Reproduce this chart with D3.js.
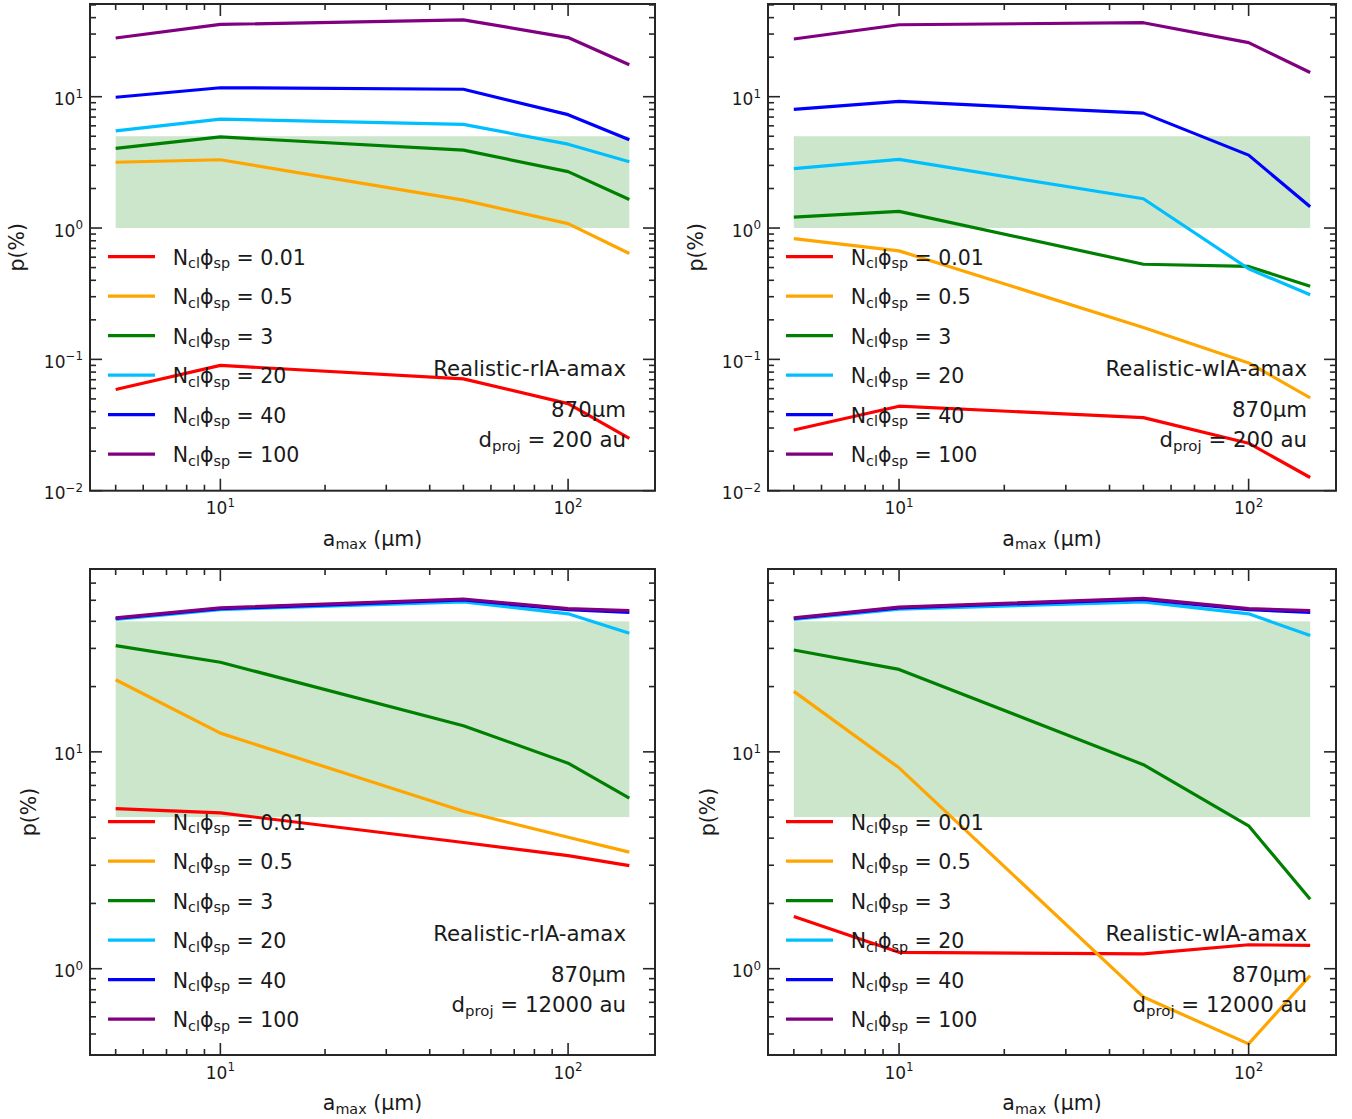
<!DOCTYPE html>
<html><head><meta charset="utf-8">
<script src="https://cdn.jsdelivr.net/npm/d3@7"></script>
<style>
body{margin:0;background:#fff}
svg{display:block}
text{font-family:"DejaVu Sans",sans-serif;fill:#1a1a1a}
</style>
</head><body>
<svg id="c" width="1352" height="1119"></svg>
<script>
// ---------------- data ----------------
const amax = [5, 10, 50, 100, 150];
const seriesLabels = ["0.01", "0.5", "3", "20", "40", "100"];
const seriesColors = ["#ff0000", "#ffa500", "#008000", "#00bfff", "#0000ff", "#800080"];

// p(%) per series (rows in seriesLabels order), columns follow amax
const rIA_200au = [
  [0.059, 0.090, 0.071, 0.046, 0.025],
  [3.17, 3.31, 1.63, 1.08, 0.64],
  [4.04, 4.94, 3.92, 2.69, 1.65],
  [5.5, 6.75, 6.15, 4.35, 3.2],
  [9.9, 11.7, 11.4, 7.3, 4.7],
  [28.0, 35.5, 38.5, 28.2, 17.5]
];
const wIA_200au = [
  [0.029, 0.044, 0.036, 0.023, 0.0126],
  [0.83, 0.67, 0.175, 0.094, 0.051],
  [1.21, 1.34, 0.53, 0.51, 0.36],
  [2.83, 3.33, 1.67, 0.49, 0.31],
  [8.0, 9.2, 7.5, 3.59, 1.45],
  [27.5, 35.3, 36.6, 25.8, 15.3]
];
const rIA_12000au = [
  [5.47, 5.23, 3.82, 3.32, 2.99],
  [21.5, 12.2, 5.32, 4.04, 3.45],
  [30.9, 25.9, 13.2, 8.87, 6.12],
  [40.8, 45.3, 49.2, 43.3, 35.2],
  [41.2, 45.7, 50.2, 45.3, 44.0],
  [41.5, 46.1, 50.7, 45.8, 44.8]
];
const wIA_12000au = [
  [1.74, 1.19, 1.17, 1.29, 1.28],
  [19.0, 8.44, 0.74, 0.45, 0.93],
  [29.5, 24.0, 8.73, 4.56, 2.09],
  [40.8, 45.5, 49.2, 43.3, 34.4],
  [41.2, 46.1, 50.5, 45.3, 44.0],
  [41.5, 46.5, 51.0, 45.8, 44.8]
];
const shade200 = [1, 5];
const shade12000 = [5, 40];
const yLim200 = [0.01, 50.8];
const yLim12000 = [0.4, 69.7];
const yTickExp200 = [-2, -1, 0, 1];
const yTickExp12000 = [0, 1];
const xTickExp = [1, 2];
const modelNames = ["Realistic-rIA-amax", "Realistic-wIA-amax"];
const wavelength = "870µm";
const dprojLabels = ["200", "12000"];

// ---------------- layout ----------------
const panels = [
  {left: 90,  right: 655,  top: 4,   bottom: 490.7, data: rIA_200au,   ylim: yLim200,   shade: shade200,   yexp: yTickExp200,   model: modelNames[0], dproj: dprojLabels[0], ylabX: 24},
  {left: 768, right: 1336, top: 4,   bottom: 490.7, data: wIA_200au,   ylim: yLim200,   shade: shade200,   yexp: yTickExp200,   model: modelNames[1], dproj: dprojLabels[0], ylabX: 703},
  {left: 90,  right: 655,  top: 569, bottom: 1055,  data: rIA_12000au, ylim: yLim12000, shade: shade12000, yexp: yTickExp12000, model: modelNames[0], dproj: dprojLabels[1], ylabX: 36},
  {left: 768, right: 1336, top: 569, bottom: 1055,  data: wIA_12000au, ylim: yLim12000, shade: shade12000, yexp: yTickExp12000, model: modelNames[1], dproj: dprojLabels[1], ylabX: 715}
];

const svg = d3.select("#c");
const FS_TICK = 17, FS_TXT = 20.5, FS_ANN = 21.3;
const SPINE = "#262626";

function richText(g, x, y, parts, fs, anchor) {
  const t = g.append("text").attr("x", x).attr("y", y)
    .attr("font-size", fs).attr("text-anchor", anchor || "start");
  let cur = 0;
  parts.forEach(p => {
    const target = p.sub ? fs * 0.18 : (p.sup ? -fs * 0.45 : 0);
    const ts = t.append("tspan").attr("dy", target - cur).text(p.t);
    if (p.sub || p.sup) ts.attr("font-size", fs * 0.7);
    cur = target;
  });
  return t;
}

const lxLo = Math.log10(d3.min(amax)), lxHi = Math.log10(d3.max(amax));
const xPad = 0.05 * (lxHi - lxLo);

panels.forEach(P => {
  const g = svg.append("g");
  const x = d3.scaleLog().domain([Math.pow(10, lxLo - xPad), Math.pow(10, lxHi + xPad)]).range([P.left, P.right]);
  const y = d3.scaleLog().domain(P.ylim).range([P.bottom, P.top]);

  // shaded band
  g.append("rect")
    .attr("x", x(amax[0])).attr("width", x(amax[amax.length - 1]) - x(amax[0]))
    .attr("y", y(P.shade[1])).attr("height", y(P.shade[0]) - y(P.shade[1]))
    .attr("fill", "#008000").attr("fill-opacity", 0.2);

  // lines
  const line = d3.line().x((d, i) => x(amax[i])).y(d => y(d));
  P.data.forEach((row, k) => {
    g.append("path").datum(row).attr("d", line)
      .attr("fill", "none").attr("stroke", seriesColors[k])
      .attr("stroke-width", 3.2).attr("stroke-linejoin", "round").attr("stroke-linecap", "butt");
  });

  // ticks (inward, all four sides)
  const [xd0, xd1] = x.domain();
  const xt = [];
  for (let e = 0; e <= 3; e++) for (let m = 1; m <= 9; m++) {
    const v = m * Math.pow(10, e);
    if (v >= xd0 && v <= xd1) xt.push({v, major: m === 1});
  }
  const [yd0, yd1] = y.domain();
  const yt = [];
  for (let e = -3; e <= 2; e++) for (let m = 1; m <= 9; m++) {
    const v = m * Math.pow(10, e);
    if (v >= yd0 * 0.9999 && v <= yd1) yt.push({v, major: m === 1});
  }
  const tk = g.append("g").attr("stroke", SPINE).attr("stroke-width", 1.6);
  xt.forEach(t => {
    const L = t.major ? 12 : 6, px = x(t.v);
    tk.append("line").attr("x1", px).attr("x2", px).attr("y1", P.bottom).attr("y2", P.bottom - L);
    tk.append("line").attr("x1", px).attr("x2", px).attr("y1", P.top).attr("y2", P.top + L);
  });
  yt.forEach(t => {
    const L = t.major ? 12 : 6, py = y(t.v);
    tk.append("line").attr("y1", py).attr("y2", py).attr("x1", P.left).attr("x2", P.left + L);
    tk.append("line").attr("y1", py).attr("y2", py).attr("x1", P.right).attr("x2", P.right - L);
  });

  // spines
  g.append("rect").attr("x", P.left).attr("y", P.top)
    .attr("width", P.right - P.left).attr("height", P.bottom - P.top)
    .attr("fill", "none").attr("stroke", SPINE).attr("stroke-width", 2);

  // tick labels
  xTickExp.forEach(e => {
    richText(g, x(Math.pow(10, e)), P.bottom + 23.5, [{t: "10"}, {t: String(e), sup: 1}], FS_TICK, "middle");
  });
  P.yexp.forEach(e => {
    const s = e < 0 ? "\u2212" + (-e) : String(e);
    richText(g, P.left - 7, y(Math.pow(10, e)) + 8.5, [{t: "10"}, {t: s, sup: 1}], FS_TICK, "end");
  });

  // axis labels
  richText(g, (P.left + P.right) / 2, P.bottom + 55,
    [{t: "a"}, {t: "max", sub: 1}, {t: " (µm)"}], FS_TXT, "middle");
  const cy = (P.top + P.bottom) / 2;
  g.append("text").attr("transform", `translate(${P.ylabX},${cy}) rotate(-90)`)
    .attr("text-anchor", "middle").attr("font-size", FS_TXT).text("p(%)");

  // legend
  seriesLabels.forEach((lab, k) => {
    const ly = P.top + 252.7 + k * 39.5;
    g.append("line").attr("x1", P.left + 18).attr("x2", P.left + 65)
      .attr("y1", ly).attr("y2", ly).attr("stroke", seriesColors[k]).attr("stroke-width", 3.2);
    richText(g, P.left + 82.7, ly + 8,
      [{t: "N"}, {t: "cl", sub: 1}, {t: "\u03D5"}, {t: "sp", sub: 1}, {t: " = " + lab}], FS_TXT, "start");
  });

  // annotation
  const ax = P.right - 29;
  richText(g, ax, P.top + 371.7, [{t: P.model}], FS_ANN, "end");
  richText(g, ax, P.top + 412.7, [{t: wavelength}], FS_ANN, "end");
  richText(g, ax, P.top + 443, [{t: "d"}, {t: "proj", sub: 1}, {t: " = " + P.dproj + " au"}], FS_ANN, "end");
});
</script>
</body></html>
